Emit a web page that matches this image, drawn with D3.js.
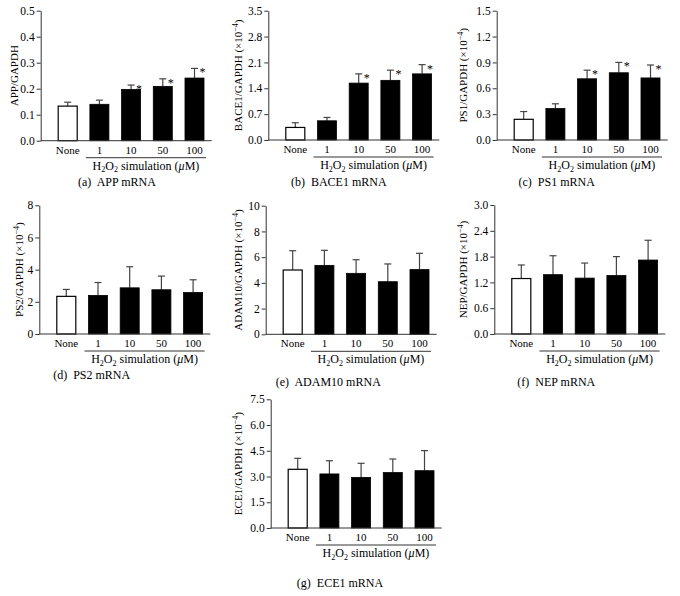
<!DOCTYPE html>
<html>
<head>
<meta charset="utf-8">
<script src="https://cdn.jsdelivr.net/npm/d3@7"></script>
<style>
  body { margin: 0; background: #fff; }
  svg { display: block; font-family: "Liberation Serif", "Times New Roman", serif; }
</style>
</head>
<body>
<svg id="chart" width="680" height="596"></svg>
<script>
// ---- data ----
const categories = ["None", "1", "10", "50", "100"];

const appMean   = [0.133, 0.140, 0.197, 0.209, 0.241];
const appErr    = [0.015, 0.016, 0.017, 0.029, 0.037];
const appStars  = [false, false, true, true, true];
const appTicks  = [0, 0.1, 0.2, 0.3, 0.4, 0.5];

const bace1Mean  = [0.34, 0.52, 1.54, 1.615, 1.79];
const bace1Err   = [0.127, 0.09, 0.25, 0.275, 0.25];
const bace1Stars = [false, false, true, true, true];
const bace1Ticks = [0, 0.7, 1.4, 2.1, 2.8, 3.5];

const ps1Mean  = [0.24, 0.365, 0.71, 0.78, 0.72];
const ps1Err   = [0.09, 0.055, 0.10, 0.12, 0.15];
const ps1Stars = [false, false, true, true, true];
const ps1Ticks = [0, 0.3, 0.6, 0.9, 1.2, 1.5];

const ps2Mean  = [2.34, 2.40, 2.87, 2.75, 2.58];
const ps2Err   = [0.43, 0.80, 1.31, 0.85, 0.79];
const ps2Ticks = [0, 2, 4, 6, 8];

const adam10Mean  = [5.0, 5.36, 4.74, 4.09, 5.03];
const adam10Err   = [1.5, 1.17, 1.06, 1.38, 1.27];
const adam10Ticks = [0, 2, 4, 6, 8, 10];

const nepMean  = [1.29, 1.38, 1.30, 1.36, 1.72];
const nepErr   = [0.315, 0.44, 0.35, 0.44, 0.46];
const nepTicks = [0, 0.6, 1.2, 1.8, 2.4, 3.0];

const ece1Mean  = [3.42, 3.15, 2.95, 3.23, 3.34];
const ece1Err   = [0.64, 0.77, 0.82, 0.79, 1.17];
const ece1Ticks = [0, 1.5, 3.0, 4.5, 6.0, 7.5];

const noStars = [false, false, false, false, false];

// ---- panels (layout) ----
const panels = [
  {mean: appMean, err: appErr, stars: appStars, ticks: appTicks, fmt: ".1f",
   ylab: "APP/GAPDH", sci: false, caption: "(a)  APP mRNA",
   ax: 40.7, top: 10.7, bottom: 140.7, labX: 17.5, capX: 117, capY: 185.5},
  {mean: bace1Mean, err: bace1Err, stars: bace1Stars, ticks: bace1Ticks, fmt: ".1f",
   ylab: "BACE1/GAPDH", sci: true, caption: "(b)  BACE1 mRNA",
   ax: 268.3, top: 10.7, bottom: 140, labX: 242.3, capX: 338.8, capY: 185.5},
  {mean: ps1Mean, err: ps1Err, stars: ps1Stars, ticks: ps1Ticks, fmt: ".1f",
   ylab: "PS1/GAPDH", sci: true, caption: "(c)  PS1 mRNA",
   ax: 496.7, top: 10.7, bottom: 140, labX: 466.7, capX: 556.7, capY: 185.5},
  {mean: ps2Mean, err: ps2Err, stars: noStars, ticks: ps2Ticks, fmt: "d",
   ylab: "PS2/GAPDH", sci: true, caption: "(d)  PS2 mRNA",
   ax: 39.3, top: 205.3, bottom: 334, labX: 23.3, capX: 91.7, capY: 378.5},
  {mean: adam10Mean, err: adam10Err, stars: noStars, ticks: adam10Ticks, fmt: "d",
   ylab: "ADAM10/GAPDH", sci: true, caption: "(e)  ADAM10 mRNA",
   ax: 265.7, top: 205.7, bottom: 334.3, labX: 241.7, capX: 328.3, capY: 385.5},
  {mean: nepMean, err: nepErr, stars: noStars, ticks: nepTicks, fmt: ".1f",
   ylab: "NEP/GAPDH", sci: true, caption: "(f)  NEP mRNA",
   ax: 494.3, top: 205, bottom: 334, labX: 466.7, capX: 556.3, capY: 386},
  {mean: ece1Mean, err: ece1Err, stars: noStars, ticks: ece1Ticks, fmt: ".1f",
   ylab: "ECE1/GAPDH", sci: true, caption: "(g)  ECE1 mRNA",
   ax: 270.7, top: 399.3, bottom: 528, labX: 241.7, capX: 340, capY: 586.5}
];

const svg = d3.select("#chart");
const AXIS_W = 171;
const STEP = 31.7;
const axisColor = "#333";

panels.forEach(p => {
  const g = svg.append("g");
  const ymax = p.ticks[p.ticks.length - 1];
  const y = d3.scaleLinear().domain([0, ymax]).range([p.bottom, p.top]);
  const x = d3.scaleBand().domain(categories)
    .range([p.ax + 27 - STEP / 2, p.ax + 27 - STEP / 2 + STEP * categories.length])
    .paddingInner(0.4).paddingOuter(0.2);
  const bw = x.bandwidth();

  // bars
  categories.forEach((c, i) => {
    const v = p.mean[i];
    const top = y(v + p.err[i]);
    const cx = x(c) + bw / 2;
    g.append("line").attr("x1", cx).attr("x2", cx)
      .attr("y1", y(v)).attr("y2", top)
      .attr("stroke", "#444").attr("stroke-width", 1.2);
    g.append("line").attr("x1", cx - 3.5).attr("x2", cx + 3.5)
      .attr("y1", top).attr("y2", top)
      .attr("stroke", "#444").attr("stroke-width", 1.2);
    g.append("rect")
      .attr("x", x(c)).attr("y", y(v))
      .attr("width", bw).attr("height", y(0) - y(v))
      .attr("fill", i === 0 ? "#fff" : "#000")
      .attr("stroke", "#000").attr("stroke-width", i === 0 ? 1.2 : 0.8);
    if (p.stars[i]) {
      g.append("text").attr("x", cx + 8).attr("y", top + 8)
        .attr("text-anchor", "middle").attr("font-size", 12).attr("fill", "#000").text("*");
    }
  });

  // y axis
  const yAxis = d3.axisLeft(y).tickValues(p.ticks).tickSize(4).tickSizeOuter(0).tickPadding(2)
    .tickFormat(d3.format(p.fmt));
  const ya = g.append("g").attr("transform", `translate(${p.ax},0)`).call(yAxis);
  ya.select(".domain").attr("stroke", axisColor);
  ya.selectAll(".tick line").attr("stroke", axisColor);
  ya.selectAll(".tick text").attr("font-size", 11.5).attr("fill", "#000")
    .attr("font-family", "'Liberation Serif', 'Times New Roman', serif");

  // x axis line
  g.append("line").attr("x1", p.ax).attr("x2", p.ax + AXIS_W)
    .attr("y1", p.bottom).attr("y2", p.bottom)
    .attr("stroke", axisColor).attr("stroke-width", 1);

  // category labels
  categories.forEach(c => {
    g.append("text").attr("x", x(c) + bw / 2).attr("y", p.bottom + 13)
      .attr("text-anchor", "middle").attr("font-size", 11).text(c);
  });

  // underline & H2O2 label
  const ux1 = x(categories[1]) - 4;
  const ux2 = x(categories[4]) + bw + 2;
  g.append("line").attr("x1", ux1).attr("x2", ux2)
    .attr("y1", p.bottom + 17).attr("y2", p.bottom + 17)
    .attr("stroke", axisColor).attr("stroke-width", 1);
  const ht = g.append("text").attr("x", (ux1 + ux2) / 2).attr("y", p.bottom + 29)
    .attr("text-anchor", "middle").attr("font-size", 12);
  ht.append("tspan").text("H");
  ht.append("tspan").attr("font-size", 8).attr("dy", 2.5).text("2");
  ht.append("tspan").attr("dy", -2.5).text("O");
  ht.append("tspan").attr("font-size", 8).attr("dy", 2.5).text("2");
  ht.append("tspan").attr("dy", -2.5).text(" simulation (");
  ht.append("tspan").attr("font-style", "italic").text("μ");
  ht.append("tspan").text("M)");

  // y label
  const yl = g.append("text")
    .attr("transform", `translate(${p.labX},${(p.top + p.bottom) / 2}) rotate(-90)`)
    .attr("text-anchor", "middle").attr("font-size", 11);
  yl.append("tspan").text(p.ylab);
  if (p.sci) {
    yl.append("tspan").text(" (×10");
    yl.append("tspan").attr("font-size", 8).attr("dy", -4).text("−4");
    yl.append("tspan").attr("dy", 4).text(")");
  }

  // caption
  g.append("text").attr("x", p.capX).attr("y", p.capY)
    .attr("text-anchor", "middle").attr("font-size", 12)
    .attr("xml:space", "preserve").style("white-space", "pre").text(p.caption);
});
</script>
</body>
</html>
